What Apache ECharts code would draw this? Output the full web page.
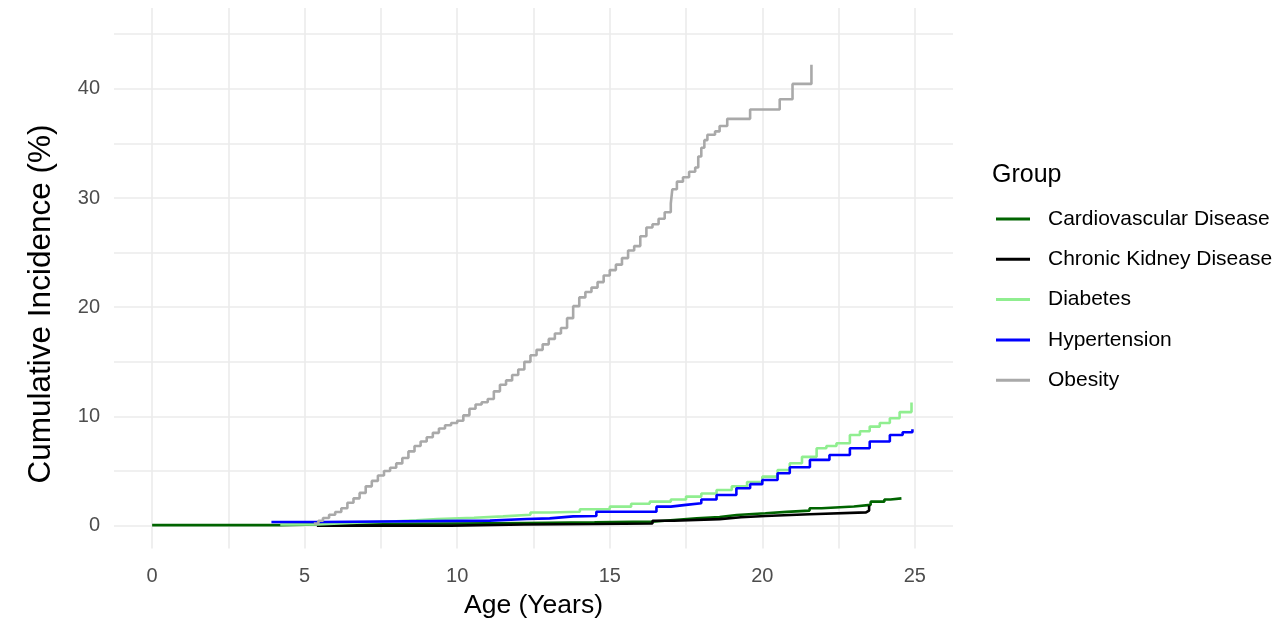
<!DOCTYPE html>
<html>
<head>
<meta charset="utf-8">
<script src="https://cdn.jsdelivr.net/npm/echarts@6/dist/echarts.min.js"></script>
<style>
html,body{margin:0;padding:0;background:#fff;overflow:hidden;}
#chart{width:1283px;height:620px;}
</style>
</head>
<body>
<div id="chart"></div>
<script>
// ---- Data ----
const groupNames = ['Cardiovascular Disease', 'Chronic Kidney Disease', 'Diabetes', 'Hypertension', 'Obesity'];
const groupColors = ['#006400', '#000000', '#90EE90', '#0000FF', '#A9A9A9'];

const cvdAge = [0, 4.2, 5.5, 9.8, 12.2, 14.5, 16.4, 17.1, 17.85, 18.6, 19.16, 20.1, 20.8, 21.55, 21.94, 23.0, 23.55, 24.0, 24.2, 24.56];
const cvdInc = [0.05, 0.12, 0.2, 0.25, 0.3, 0.37, 0.52, 0.67, 0.8, 0.98, 1.13, 1.26, 1.38, 1.59, 1.75, 1.9, 2.2, 2.4, 2.5, 2.5];

const ckdAge = [5.4, 9.8, 12.2, 14.5, 16.4, 17.1, 18.6, 19.3, 20.1, 21.55, 23.4, 23.5];
const ckdInc = [0.0, 0.1, 0.15, 0.2, 0.45, 0.6, 0.77, 0.88, 1.04, 1.22, 1.38, 1.85];

const diabetesAge = [4.2, 5.4, 6.5, 8.0, 8.66, 9.35, 10.55, 11.5, 12.4, 13.03, 14.02, 15.0, 15.7, 16.31, 17.0, 17.5, 18.0, 18.5, 19.0, 19.5, 20.0, 20.5, 20.9, 21.3, 21.78, 22.1, 22.43, 22.87, 23.2, 23.52, 23.85, 24.18, 24.5, 24.89];
const diabetesInc = [0.1, 0.25, 0.4, 0.5, 0.61, 0.73, 0.85, 1.0, 1.2, 1.28, 1.5, 1.74, 2.0, 2.2, 2.4, 2.66, 2.95, 3.27, 3.6, 4.0, 4.49, 5.1, 5.71, 6.3, 7.09, 7.3, 7.55, 8.3, 8.65, 9.07, 9.4, 9.83, 10.4, 11.27];

const hyperAge = [3.91, 5.57, 11.07, 12.28, 13.03, 13.8, 14.56, 16.53, 17.0, 17.5, 18.0, 18.5, 19.15, 19.6, 20.0, 20.5, 20.9, 21.56, 22.2, 22.87, 23.52, 24.18, 24.6, 24.92];
const hyperInc = [0.33, 0.46, 0.61, 0.67, 0.85, 0.88, 1.28, 1.74, 1.9, 2.05, 2.4, 2.81, 3.42, 3.8, 4.18, 4.8, 5.35, 6.02, 6.47, 7.09, 7.7, 8.3, 8.55, 8.82];

const obesityAge = [5.3, 5.45, 5.6, 5.8, 6.0, 6.2, 6.4, 6.6, 6.8, 7.0, 7.2, 7.4, 7.6, 7.8, 8.0, 8.2, 8.4, 8.6, 8.8, 9.0, 9.2, 9.4, 9.6, 9.8, 10.0, 10.2, 10.4, 10.6, 10.8, 11.0, 11.2, 11.4, 11.6, 11.8, 12.0, 12.2, 12.4, 12.6, 12.8, 13.0, 13.2, 13.4, 13.6, 13.8, 14.0, 14.2, 14.4, 14.6, 14.8, 15.0, 15.2, 15.4, 15.6, 15.8, 16.0, 16.2, 16.4, 16.6, 16.8, 17.0, 17.05, 17.2, 17.4, 17.6, 17.8, 17.9, 18.0, 18.1, 18.2, 18.45, 18.6, 18.85, 19.6, 20.57, 20.99, 21.61];
const obesityInc = [0.2, 0.45, 0.7, 1.0, 1.25, 1.6, 2.1, 2.5, 3.0, 3.6, 4.1, 4.6, 5.0, 5.3, 5.7, 6.2, 6.8, 7.3, 7.7, 8.1, 8.5, 8.9, 9.2, 9.4, 9.6, 10.1, 10.7, 11.1, 11.3, 11.6, 12.3, 12.9, 13.3, 13.8, 14.3, 15.0, 15.6, 16.1, 16.6, 17.1, 17.6, 18.1, 19.0, 20.1, 20.9, 21.4, 21.8, 22.3, 22.9, 23.4, 23.9, 24.5, 25.2, 25.6, 26.5, 27.3, 27.6, 28.1, 28.7, 29.5, 30.8, 31.5, 31.9, 32.4, 32.8, 33.8, 34.6, 35.3, 35.8, 36.1, 36.6, 37.25, 38.1, 39.05, 40.45, 42.2];

const xTickLabels = [0, 5, 10, 15, 20, 25];
const xGridValues = [0, 2.5, 5, 7.5, 10, 12.5, 15, 17.5, 20, 22.5, 25];
const yTickLabels = [0, 10, 20, 30, 40];
const yGridValues = [0, 5, 10, 15, 20, 25, 30, 35, 40, 45];

// ---- Build chart ----
const ages = [cvdAge, ckdAge, diabetesAge, hyperAge, obesityAge];
const incs = [cvdInc, ckdInc, diabetesInc, hyperInc, obesityInc];
const FONT = '"Liberation Sans", Arial, sans-serif';

const series = groupNames.map((name, i) => ({
  name: name,
  type: 'line',
  step: 'end',
  showSymbol: false,
  symbol: 'none',
  data: ages[i].map((a, j) => [a, incs[i][j]]),
  lineStyle: { color: groupColors[i], width: 2.6 },
  itemStyle: { color: groupColors[i] },
  emphasis: { disabled: true },
  z: 3 + i
}));

const chart = echarts.init(document.getElementById('chart'), null, { renderer: 'canvas', width: 1283, height: 620 });
chart.setOption({
  animation: false,
  backgroundColor: '#ffffff',
  title: {
    text: 'Group', left: 992, top: 163, padding: 0,
    textStyle: { fontFamily: FONT, fontSize: 25, fontWeight: 'normal', color: '#000' }
  },
  legend: {
    orient: 'vertical', left: 996, top: 208, padding: 0,
    icon: 'rect', itemWidth: 34, itemHeight: 3, itemGap: 18.3,
    data: groupNames,
    textStyle: { fontFamily: FONT, fontSize: 21, color: '#000', lineHeight: 22, padding: [0, 0, 0, 13] }
  },
  grid: { left: 114, width: 839, top: 8, height: 540.6, containLabel: false, outerBoundsMode: 'none' },
  xAxis: {
    type: 'value', min: -1.25, max: 26.25,
    axisLine: { show: false },
    axisTick: { show: false, customValues: xGridValues },
    splitLine: { show: true, lineStyle: { color: '#ebebeb', width: 1.6 } },
    axisLabel: { customValues: xTickLabels, margin: 18, fontFamily: FONT, fontSize: 20, color: '#4d4d4d' },
    name: 'Age (Years)', nameLocation: 'middle', nameGap: 44,
    nameTextStyle: { fontFamily: FONT, fontSize: 26.5, color: '#000' }
  },
  yAxis: {
    type: 'value', min: -2.1, max: 47.4,
    axisLine: { show: false },
    axisTick: { show: false, customValues: yGridValues },
    splitLine: { show: true, lineStyle: { color: '#ebebeb', width: 1.6 } },
    axisLabel: { customValues: yTickLabels, margin: 14, fontFamily: FONT, fontSize: 20, color: '#4d4d4d' }
  },
  graphic: [{
    type: 'text', x: 41, y: 304, rotation: Math.PI / 2, silent: true,
    style: {
      text: 'Cumulative Incidence (%)', font: '31.5px "Liberation Sans", Arial, sans-serif', fill: '#000',
      align: 'center', verticalAlign: 'middle', textAlign: 'center', textVerticalAlign: 'middle'
    }
  }],
  series: series
});
</script>
</body>
</html>
